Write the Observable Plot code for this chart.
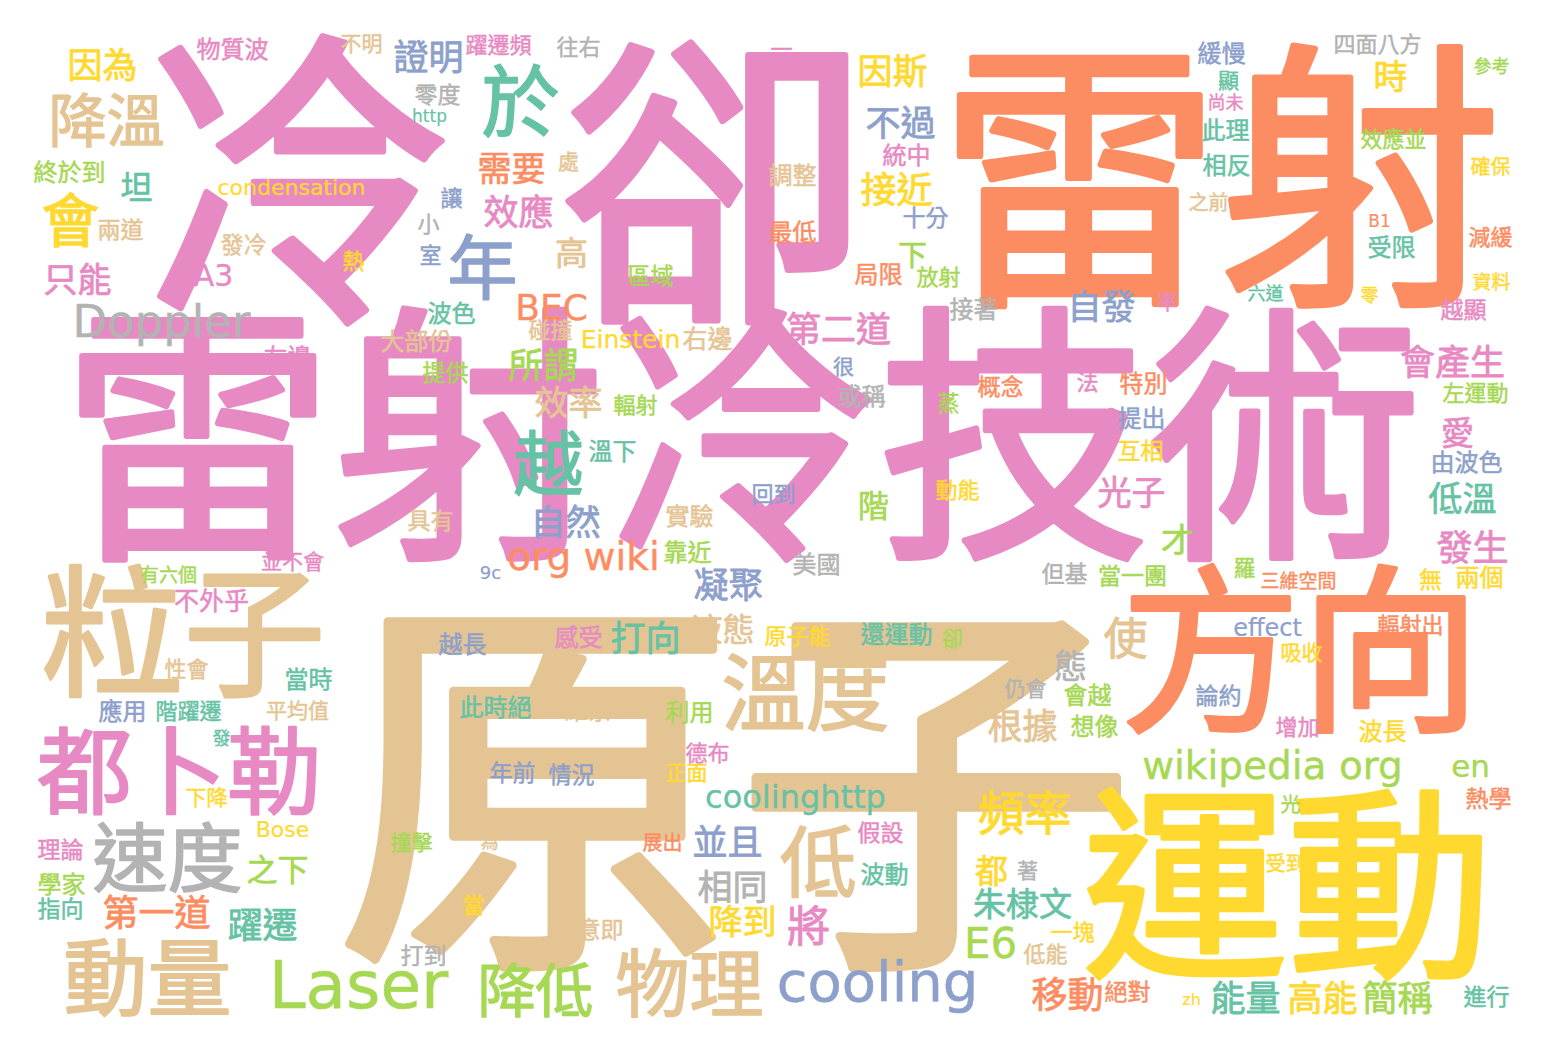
<!DOCTYPE html>
<html>
<head>
<meta charset="utf-8">
<script src="https://cdn.jsdelivr.net/npm/d3@7"></script>
<script src="https://cdn.jsdelivr.net/npm/@observablehq/plot@0.6"></script>
<style>
  html, body { margin: 0; padding: 0; background: #ffffff; }
  #chart { width: 1548px; height: 1052px; }
</style>
</head>
<body>
<div id="chart"></div>
<script>
// Word-cloud data: word, its place in the cloud (cloud units), its weight (font size) and colour group
const words = ["冷卻","雷射","雷射冷技術","原子","運動","方向","粒子","都卜勒","溫度","動量","於","低","速度","物理","年","越","Laser","降溫","會","降低","cooling","頻率","Doppler","wikipedia org","org wiki","使","將","E6","BEC","證明","因為","需要","效應","因斯","不過","接近","自發","第二道","時","所謂","效率","自然","凝聚","打向","液態","光子","階","會產生","愛","低溫","發生","才","態","根據","並且","相同","降到","都","朱棣文","移動","能量","高能","簡稱","第一道","躍遷","只能","坦","之下","coolinghttp","en","高","A3","下","condensation","Einstein","右邊","effect","Bose","物質波","不明","終於到","兩道","發冷","熱","躍遷頻","往右","零度","http","處","讓","小","室","區域","波色","碰撞","大部份","一","統中","調整","十分","最低","放射","局限","接著","緩慢","四面八方","參考","顯","尚未","此理","效應並","相反","確保","之前","B1","減緩","受限","資料","六道","零","率","越顯","左邊","並不會","有六個","不外乎","性會","當時","提供","輻射","溫下","回到","具有","實驗","靠近","9c","越長","感受","很","或稱","概念","法","特別","蒸","提出","互相","動能","美國","但基","當一團","原子能","還運動","卻","仍會","會越","左運動","由波色","羅","三維空間","無","兩個","輻射出","吸收","論約","應用","階躍遷","平均值","發","下降","理論","學家","指向","此時絕","一維系","利用","年前","情況","德布","正面","撞擊","為","展出","當","意即","打到","想像","假設","波動","著","一塊","低能","絕對","增加","波長","熱學","光","受到","zh","進行"];
const wordX = [505,1220,741,735,1287,1300,183,179,805,147,520,818,167,689,482,548,358,106,70,535,877,1024,161,1272,583,1125,808,990,551,428,102,511,518,892,900,896,1101,838,1390,543,568,565,728,645,722,1131,873,1452,1457,1462,1472,1177,1070,1022,727,732,742,991,1022,1067,1245,1322,1397,156,262,77,136,277,795,1470,571,213,912,291,630,707,1267,282,232,361,69,120,243,353,498,578,437,429,568,451,428,430,650,451,550,416,781,906,792,925,792,938,878,973,1221,1377,1491,1228,1225,1225,1393,1226,1490,1208,1379,1490,1391,1491,1265,1369,1167,1463,287,292,168,211,186,308,445,635,612,773,430,689,687,490,462,578,843,861,1000,1087,1143,948,1141,1140,957,816,1064,1132,797,896,952,1025,1087,1475,1466,1244,1298,1430,1479,1410,1301,1218,122,188,297,221,206,60,61,60,495,576,689,512,571,707,686,411,489,662,473,600,423,1094,880,884,1027,1072,1045,1127,1297,1382,1488,1290,1285,1191,1486];
const wordY = [182,178,436,787,885,650,632,771,692,977,102,862,858,983,268,464,983,120,220,990,980,812,320,764,555,638,926,942,306,57,65,168,212,71,123,189,306,329,76,365,402,522,585,638,629,492,505,362,432,498,547,539,665,726,842,887,921,870,903,994,998,998,998,912,925,279,187,869,796,765,252,274,255,186,338,338,627,828,49,43,172,229,244,260,44,46,94,115,161,197,223,254,275,313,329,341,48,155,175,217,232,276,274,309,53,43,66,80,102,130,138,165,166,202,220,236,247,281,293,295,302,309,357,561,574,600,668,679,372,404,451,493,520,516,552,572,644,637,366,396,386,381,383,402,418,450,489,564,573,575,635,634,638,688,695,392,462,567,580,579,577,624,652,695,711,710,710,738,797,849,884,908,707,710,712,772,774,752,772,842,841,842,904,929,955,726,832,874,870,931,953,991,726,731,798,804,863,999,996];
const weights = [310,282,272,400,205,180,142,95,84,84,78,77,75,74,70,70,66,58,58,58,56,47,45,39,39,44,43,42,36,35,35,34,35,35,35,36,34,35,34,35,34,35,35,35,32,34,31,35,33,34,36,33,33,35,35,35,34,33,33,36,35,35,35,36,35,34,32,31,32,31,33,30,29,22,25,25,24,22,24,21,24,23,23,22,22,22,23,17,21,22,22,22,23,24,22,24,22,24,24,23,24,22,24,24,24,22,18,21,18,24,22,24,20,20,17,22,24,19,18,18,20,23,24,21,19,25,22,24,23,22,24,22,23,24,24,18,24,24,21,24,23,22,24,22,24,23,22,24,23,23,22,24,21,21,24,22,24,22,19,23,24,22,21,23,24,22,21,18,21,23,24,23,24,23,24,23,23,22,21,21,18,20,22,23,23,24,23,24,21,22,22,23,22,24,23,20,20,16,23];
// colour groups (Set2 order): A teal, B orange, C blue, D pink, E green, F yellow, G tan, H gray
const groups = ["D","B","D","G","F","B","G","D","G","G","A","G","H","G","C","A","E","G","F","E","C","F","H","E","B","G","D","E","B","C","F","B","D","F","C","F","C","D","F","E","G","C","C","A","G","D","E","D","D","A","D","E","H","G","C","H","F","F","A","B","A","F","E","B","A","D","A","E","A","E","G","D","E","F","F","G","C","F","D","G","E","G","G","F","D","H","H","A","G","C","H","C","E","A","G","G","D","D","G","C","B","E","B","H","C","H","E","A","D","A","E","A","F","G","B","B","A","F","A","F","D","D","D","D","E","D","G","A","E","E","A","C","G","G","E","C","C","D","C","H","B","D","B","E","C","F","F","H","H","E","F","A","E","H","E","E","C","E","B","F","F","B","F","C","C","A","G","A","F","D","E","A","A","G","E","C","C","D","F","E","G","B","F","G","H","E","D","A","H","F","G","B","D","F","B","E","F","F","A"];
const groupNames = ["A","B","C","D","E","F","G","H"];
const groupColors = ["#66c2a5","#fc8d62","#8da0cb","#e78ac3","#a6d854","#ffd92f","#e5c494","#b3b3b3"];
// extra character spacing (in em) for words whose glyphs stand apart in the cloud
const tracking = {"冷卻": 0.35};

const table = words.map((w, i) => ({word: w, x: wordX[i], y: wordY[i], size: weights[i], group: groups[i]}))
  .sort((a, b) => b.size - a.size);
const isLatin = d => /^[A-Za-z0-9 ]+$/.test(d.word);
const font = '"DejaVu Sans","Noto Sans CJK TC",sans-serif';

const chart = Plot.plot({
  width: 1548,
  height: 1052,
  margin: 0,
  x: {domain: [0, 1548], range: [0, 1548], axis: null},
  y: {domain: [0, 1052], range: [0, 1052], axis: null},
  color: {type: "ordinal", domain: groupNames, range: groupColors},
  style: {background: "#ffffff", fontFamily: font},
  marks: [
    Plot.text(table, {
      x: "x",
      y: d => d.y + 0.05 * d.size,
      text: "word",
      fontSize: "size",
      fill: "group",
      stroke: "group",
      strokeWidth: d => (isLatin(d) ? 0.01 : 0.022) * d.size,
      strokeLinejoin: "round",
      textAnchor: "middle",
      lineAnchor: "middle",
      fontFamily: font,
      fontWeight: 400
    })
  ]
});
d3.select(chart).selectAll("text").each(function() {
  const t = tracking[this.textContent];
  if (t) d3.select(this).style("letter-spacing", t + "em").attr("dx", (t / 2) + "em");
});
document.getElementById("chart").appendChild(chart);
</script>
</body>
</html>
